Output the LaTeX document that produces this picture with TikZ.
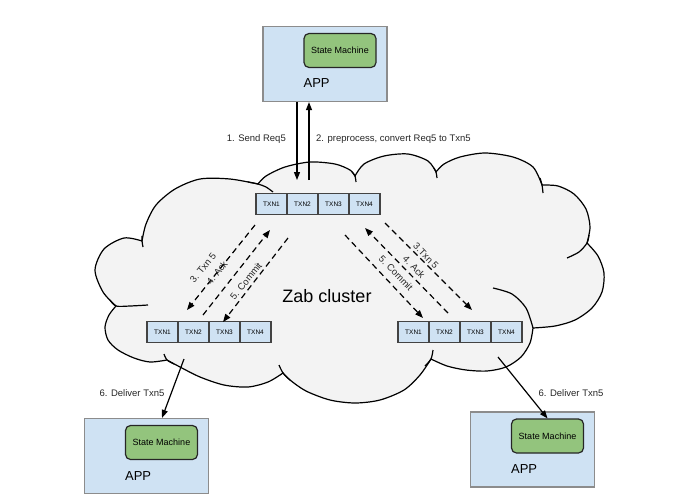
\documentclass[tikz,border=0pt]{standalone}
\usepackage{fontspec}
\setmainfont{Liberation Sans}
\usetikzlibrary{arrows.meta,positioning}

\definecolor{appblue}{HTML}{CFE2F3}
\definecolor{appedge}{HTML}{8C8C8C}
\definecolor{smgreen}{HTML}{93C47D}
\definecolor{smedge}{HTML}{262626}
\definecolor{celledge}{HTML}{434343}
\definecolor{cloudgray}{HTML}{F3F3F3}
\definecolor{txtgray}{HTML}{262626}

\tikzset{
  appbox/.style={draw=appedge, fill=appblue, line width=1.2pt, minimum width=124pt, minimum height=75pt, inner sep=0pt},
  smbox/.style={draw=smedge, fill=smgreen, line width=1.2pt, rounded corners=5pt, minimum width=72pt, minimum height=34pt, inner sep=0pt, font=\fontsize{9}{10}\selectfont},
  apptext/.style={font=\fontsize{13}{15}\selectfont, inner sep=0pt, anchor=west},
  txn/.style={draw=celledge, fill=appblue, line width=1.2pt, minimum width=31pt, minimum height=21.5pt, inner sep=0pt, outer sep=0pt, font=\fontsize{6.5}{7}\selectfont},
  msg/.style={font=\fontsize{9.5}{11}\selectfont, text=txtgray, inner sep=1pt},
  flow/.style={line width=1.2pt, -{Triangle[length=8pt,width=6pt]}},
  zab/.style={flow, dash pattern=on 6pt off 4pt},
  cloudline/.style={draw=black, line width=1.2pt, fill=cloudgray},
  hook/.style={draw=black, line width=1.2pt},
}

\begin{document}
\begin{tikzpicture}[x=1pt, y=-1pt]
  \useasboundingbox (0,0) rectangle (674,498);

  % the cluster cloud
  \path[cloudline]
    plot[smooth] coordinates {(142,241) (146,224) (156,205) (175,189) (200,179) (230,179) (258,184)}
    -- plot[smooth] coordinates {(258,184) (266,176) (285,167) (310,162) (335,164) (350,170) (355,176)}
    -- plot[smooth] coordinates {(355,176) (364,164) (384,156) (408,154) (428,161) (436,172)}
    -- plot[smooth] coordinates {(436,172) (444,164) (460,157) (485,153) (513,157) (533,167) (542,185)}
    -- plot[smooth] coordinates {(542,185) (558,186) (574,194) (586,209) (590,227) (587,243)}
    -- plot[smooth] coordinates {(587,243) (598,256) (604,273) (602,292) (592,308) (575,320) (555,326) (533,328)}
    -- plot[smooth] coordinates {(533,328) (530,343) (521,357) (506,367) (487,371) (466,370) (447,366) (431,359)}
    -- plot[smooth] coordinates {(431,359) (420,375) (404,390) (380,400) (355,403) (330,400) (306,391) (290,380) (283,373)}
    -- plot[smooth] coordinates {(283,373) (268,382) (248,387) (224,385) (200,377) (180,367) (167,360)}
    -- plot[smooth] coordinates {(167,360) (150,362) (134,358) (118,350) (108,340) (105,327) (109,315) (116,306)}
    -- plot[smooth] coordinates {(116,306) (103,292) (95,270) (104,249) (124,238) (142,241)}
    -- cycle;
  \draw[hook] plot[smooth] coordinates {(248,182) (258,184) (266,187) (273,192)};
  \draw[hook] plot[smooth] coordinates {(352,172) (355,176) (356,182)};
  \draw[hook] plot[smooth] coordinates {(434,168) (436,172) (437,178)};
  \draw[hook] plot[smooth] coordinates {(540,178) (542,185) (543,193)};
  \draw[hook] plot[smooth] coordinates {(589,235) (587,243) (579,252) (567,258)};
  \draw[hook] plot[smooth] coordinates {(493,288) (512,294) (526,308) (533,328)};
  \draw[hook] plot[smooth] coordinates {(425,366) (431,359) (433,350)};
  \draw[hook] plot[smooth] coordinates {(290,380) (283,373) (279,365)};
  \draw[hook] plot[smooth] coordinates {(174,364) (167,360) (164,354)};
  \draw[hook] plot[smooth] coordinates {(110,300) (116,306) (130,306) (148,305)};
  \draw[hook] plot[smooth] coordinates {(142,236) (142,241) (143,247)};

  \node[font=\fontsize{18}{20}\selectfont] (zabLbl) at (327,296) {Zab cluster};

  % applications
  \node[appbox] (topApp) at (325,64) {};
  \node[smbox, anchor=north east] (topSM) at ([shift={(-11,7)}]topApp.north east) {State Machine};
  \node[apptext] (topAppLbl) at ([yshift=-15pt]topSM.south west) {APP};

  \node[appbox] (blApp) at (146.5,456) {};
  \node[smbox, anchor=north east] (blSM) at ([shift={(-11,7)}]blApp.north east) {State Machine};
  \node[apptext] (blAppLbl) at ([yshift=-16pt]blSM.south west) {APP};

  \node[appbox] (brApp) at (532.5,449.5) {};
  \node[smbox, anchor=north east] (brSM) at ([shift={(-11,7)}]brApp.north east) {State Machine};
  \node[apptext] (brAppLbl) at ([yshift=-15pt]brSM.south west) {APP};

  % transaction logs
  \node[txn] (t1) at (271.5,204) {TXN1};
  \node[txn, right=0pt of t1] (t2) {TXN2};
  \node[txn, right=0pt of t2] (t3) {TXN3};
  \node[txn, right=0pt of t3] (t4) {TXN4};

  \node[txn] (l1) at (162.5,332) {TXN1};
  \node[txn, right=0pt of l1] (l2) {TXN2};
  \node[txn, right=0pt of l2] (l3) {TXN3};
  \node[txn, right=0pt of l3] (l4) {TXN4};

  \node[txn] (r1) at (413.5,332) {TXN1};
  \node[txn, right=0pt of r1] (r2) {TXN2};
  \node[txn, right=0pt of r2] (r3) {TXN3};
  \node[txn, right=0pt of r3] (r4) {TXN4};

  % request from the leader's app
  \coordinate (reqIn) at (297,180);
  \coordinate (txnOut) at (309,180);
  \draw[flow] (reqIn |- topApp.south) -- (reqIn);
  \draw[flow] (txnOut) -- (txnOut |- topApp.south);
  \node[msg, anchor=east] (sendLbl) at (287,139) {1. Send Req5};
  \node[msg, anchor=west] (convLbl) at (315,139) {2. preprocess, convert Req5 to Txn5};

  % leader <-> left follower
  \coordinate (lA) at (255,225);  \coordinate (lB) at (187,310);
  \coordinate (lC) at (203,315);  \coordinate (lD) at (270,230);
  \coordinate (lE) at (288,238);  \coordinate (lF) at (223,322);
  \draw[zab] (lA) -- (lB);
  \draw[zab] (lC) -- (lD);
  \draw[zab] (lE) -- (lF);
  \node[msg, rotate=51] (lTxn) at (203,268) {3. Txn 5};
  \node[msg, rotate=51] (lAck) at (217,273) {4. Ack};
  \node[msg, rotate=51] (lCom) at (246,281) {5. Commit};

  % leader <-> right follower
  \coordinate (rA) at (385,223);  \coordinate (rB) at (472,310);
  \coordinate (rC) at (448,313);  \coordinate (rD) at (365,228);
  \coordinate (rE) at (345,235);  \coordinate (rF) at (423,318);
  \draw[zab] (rA) -- (rB);
  \draw[zab] (rC) -- (rD);
  \draw[zab] (rE) -- (rF);
  \node[msg, rotate=-46] (rTxn) at (426,256) {3.Txn 5};
  \node[msg, rotate=-46] (rAck) at (414,267) {4. Ack};
  \node[msg, rotate=-46] (rCom) at (396,273) {5. Commit};

  % delivery to the followers' apps
  \coordinate (dlL) at (184,359);
  \coordinate (dlR) at (498,357);
  \draw[flow] (dlL) -- ([xshift=15.5pt]blApp.north);
  \draw[flow] (dlR) -- (brSM.north);
  \node[msg] (delL) at (132,393) {6. Deliver Txn5};
  \node[msg] (delR) at (571,393) {6. Deliver Txn5};
\end{tikzpicture}
\end{document}
